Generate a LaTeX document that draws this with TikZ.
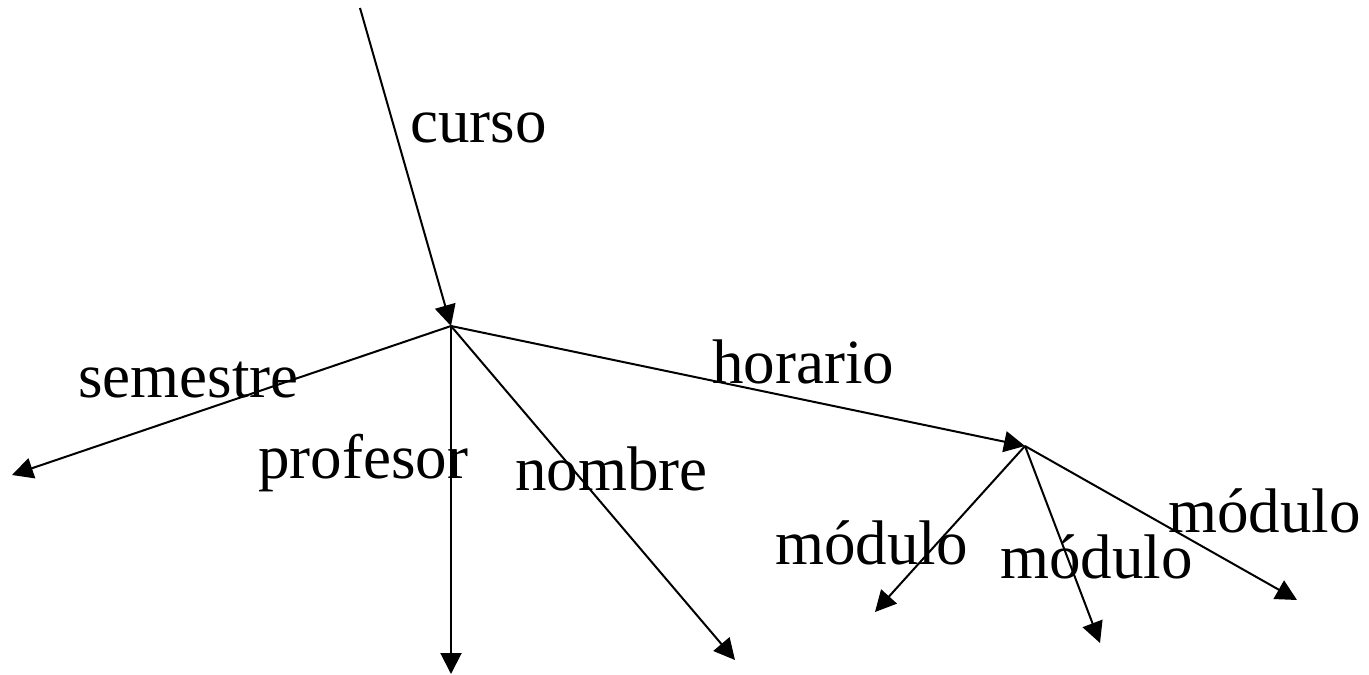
\documentclass[tikz,border=0pt]{standalone}
\usepackage{fontspec}
\setmainfont{Liberation Serif}
\usetikzlibrary{arrows.meta}
\begin{document}
\begin{tikzpicture}[x=1pt,y=-1pt,
  edge/.style={line width=2pt,-{Triangle[length=21pt,width=21pt]}},
  lbl/.style={inner sep=0pt,anchor=base west,font=\fontsize{63}{70}\selectfont}]
\useasboundingbox (0,0) rectangle (1369,675);
\coordinate (top) at (360,8);
\coordinate (hub) at (451,326);
\coordinate (sem) at (12,475);
\coordinate (prof) at (451,674);
\coordinate (nom) at (735,660);
\coordinate (hub2) at (1025,446);
\coordinate (m1) at (875,612);
\coordinate (m2) at (1100,643);
\coordinate (m3) at (1297,600);
\draw[edge] (top) -- (hub);
\draw[edge] (hub) -- (sem);
\draw[edge] (hub) -- (prof);
\draw[edge] (hub) -- (nom);
\draw[edge] (hub) -- (hub2);
\draw[edge] (hub2) -- (m1);
\draw[edge] (hub2) -- (m2);
\draw[edge] (hub2) -- (m3);
\node[lbl] (lcurso) at (410,142) {curso};
\node[lbl] (lsem) at (78,397) {semestre};
\node[lbl] (lprof) at (258,478) {profesor};
\node[lbl] (lnom) at (515,490) {nombre};
\node[lbl] (lhor) at (712,383) {horario};
\node[lbl] (lm1) at (775,564) {módulo};
\node[lbl] (lm2) at (1000,578) {módulo};
\node[lbl] (lm3) at (1168,532) {módulo};
\end{tikzpicture}
\end{document}
